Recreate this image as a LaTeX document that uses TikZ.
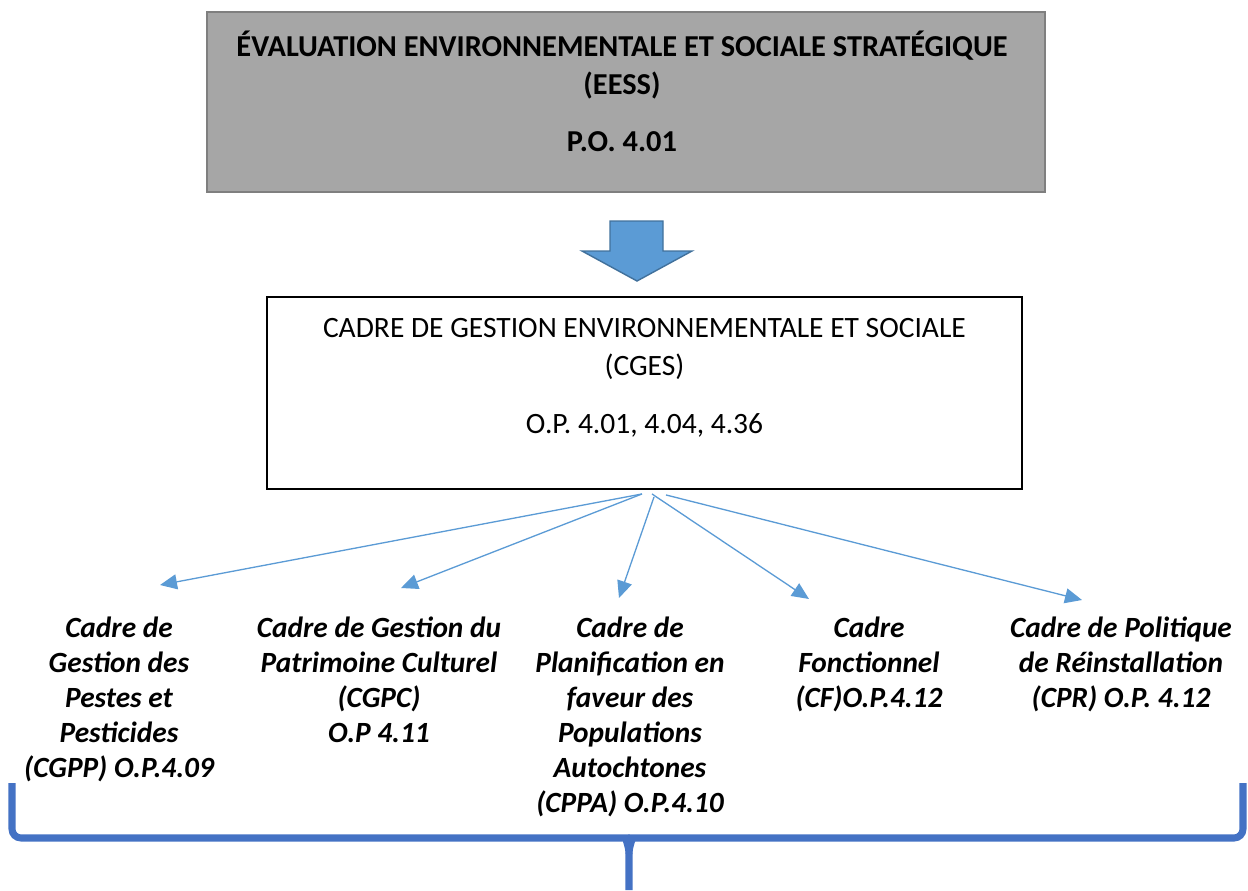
\documentclass[tikz,border=0pt]{standalone}
\usepackage{fontspec}
\setmainfont{Carlito}
\definecolor{boxgrey}{HTML}{A6A6A6}
\definecolor{boxline}{HTML}{7F7F7F}
\definecolor{arrowfill}{HTML}{5B9BD5}
\definecolor{arrowline}{HTML}{41719C}
\definecolor{bracecol}{HTML}{4472C4}
\usetikzlibrary{positioning, arrows.meta}

\begin{document}
\begin{tikzpicture}[x=0.02cm, y=-0.02cm,
                    every node/.style = {text=black, inner sep=0pt},
                    eessbox/.style = {draw=boxline, fill=boxgrey, line width=1.2pt,
                                      minimum width=16.76cm, minimum height=3.6cm},
                    cgesbox/.style = {draw=black, line width=1.1pt,
                                      minimum width=15.1cm, minimum height=3.84cm},
                    boxtext/.style = {align=center, font=\fontsize{16.8}{21.6}\selectfont},
                    cadre/.style = {align=center, anchor=north,
                                    font=\fontsize{16.7}{19.9}\selectfont\bfseries\itshape},
                    blockarrow/.style = {draw=arrowline, fill=arrowfill, line width=0.8pt},
                    fanarrow/.style = {draw=arrowfill, line width=0.75pt,
                                       -{Triangle[length=0.34cm, width=0.3cm, fill=arrowfill]}},
                    brace/.style = {draw=bracecol, line width=4pt}]
    \useasboundingbox (0,0) rectangle (1248,890);
    \node (eess) [eessbox] at (626,102) {};
    \node (eesstext) [boxtext, font=\fontsize{17.3}{21.6}\selectfont\bfseries] at (622,91)
          {ÉVALUATION ENVIRONNEMENTALE ET SOCIALE STRATÉGIQUE\\(EESS)\\[10.8pt]P.O. 4.01};
    \draw[blockarrow] (610,221) -- (663,221) -- (663,251) -- (692,251) -- (637,281)
                      -- (582,251) -- (610,251) -- cycle;
    \node (cges) [cgesbox] at (644.5,393) {};
    \node (cgestext) [boxtext] at (644.5,378)
          {CADRE DE GESTION ENVIRONNEMENTALE ET SOCIALE\\(CGES)\\[11.5pt]O.P. 4.01, 4.04, 4.36};
    \node (cgpp) [cadre] at (119,617) {Cadre de\\Gestion des\\Pestes et\\Pesticides\\(CGPP) O.P.4.09};
    \node (cgpc) [cadre] at (379,617) {Cadre de Gestion du\\Patrimoine Culturel\\(CGPC)\\O.P 4.11};
    \node (cppa) [cadre] at (630,617) {Cadre de\\Planification en\\faveur des\\Populations\\Autochtones\\(CPPA) O.P.4.10};
    \node (cf)   [cadre] at (869,617) {Cadre\\Fonctionnel\\(CF)O.P.4.12};
    \node (cpr)  [cadre] at (1121,617) {Cadre de Politique\\de Réinstallation\\(CPR) O.P. 4.12};
    \coordinate (t1) at (160,585);
    \coordinate (t2) at (401,588);
    \coordinate (t3) at (619,598);
    \coordinate (t4) at (809,599);
    \coordinate (t5) at (1082,600);
    \draw[fanarrow] ([xshift=-0.05cm, yshift=-0.08cm]cges.south) -- (t1);
    \draw[fanarrow] ([xshift=-0.05cm, yshift=-0.08cm]cges.south) -- (t2);
    \draw[fanarrow] ([xshift=0.19cm, yshift=-0.14cm]cges.south) -- (t3);
    \draw[fanarrow] ([xshift=0.15cm, yshift=-0.08cm]cges.south) -- (t4);
    \draw[fanarrow] ([xshift=0.43cm, yshift=-0.1cm]cges.south) -- (t5);
    \draw[brace, rounded corners=0.18cm] (12,783) -- (12,838) -- (617,838)
         [sharp corners] to[out=0, in=90] (629,854) -- (629,890);
    \draw[brace, rounded corners=0.18cm] (1243,783) -- (1243,838) -- (641,838)
         [sharp corners] to[out=180, in=90] (629,854);
\end{tikzpicture}
\end{document}
